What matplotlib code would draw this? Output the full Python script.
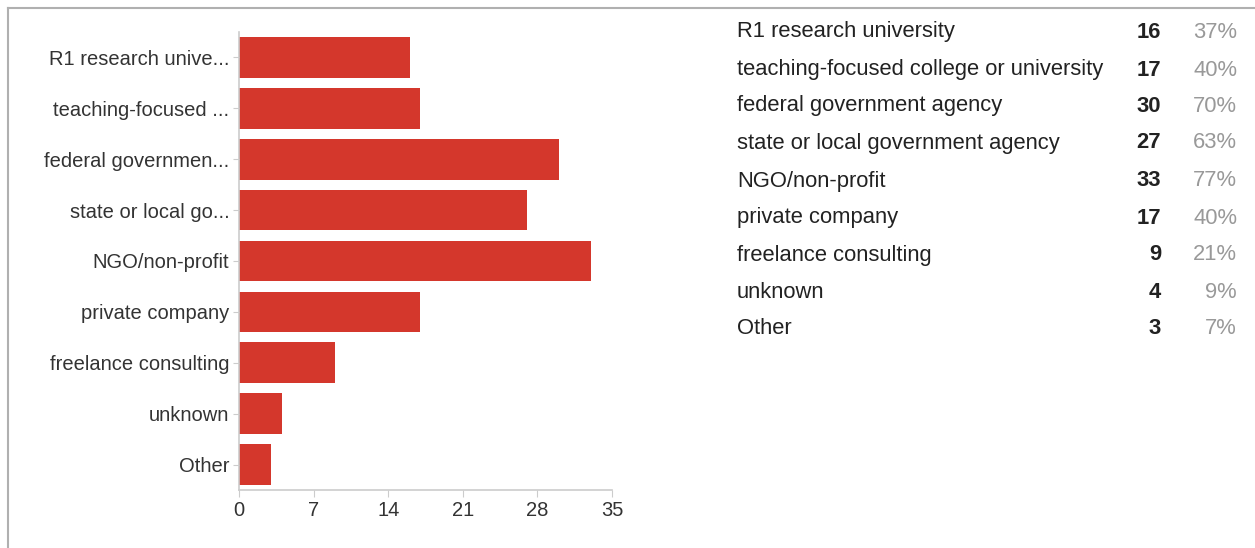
import matplotlib.pyplot as plt
from matplotlib.lines import Line2D

plt.rcParams['font.family'] = ['Liberation Sans', 'DejaVu Sans']

# short labels shown on the bar axis
bar_labels = ['R1 research unive...', 'teaching-focused ...', 'federal governmen...',
              'state or local go...', 'NGO/non-profit', 'private company',
              'freelance consulting', 'unknown', 'Other']
# full labels shown in the table on the right
full_labels = ['R1 research university', 'teaching-focused college or university',
               'federal government agency', 'state or local government agency',
               'NGO/non-profit', 'private company', 'freelance consulting',
               'unknown', 'Other']
counts = [16, 17, 30, 27, 33, 17, 9, 4, 3]
percents = ['37%', '40%', '70%', '63%', '77%', '40%', '21%', '9%', '7%']
xticks = [0, 7, 14, 21, 28, 35]

W, H = 1255, 548
fig = plt.figure(figsize=(W / 100, H / 100), dpi=100)

# bar chart
ax = fig.add_axes([239 / W, 1 - 490 / H, (612 - 239) / W, (490 - 32) / H])
ypos = list(range(len(counts)))
ax.barh(ypos, counts, height=0.8, color='#d4372c')
ax.set_ylim(len(counts) - 0.5, -0.5)
ax.set_xlim(0, 35)
ax.set_xticks(xticks)
ax.set_yticks(ypos)
ax.set_yticklabels(bar_labels)
for s in ['top', 'right']:
    ax.spines[s].set_visible(False)
for s in ['left', 'bottom']:
    ax.spines[s].set_color('#cccccc')
    ax.spines[s].set_linewidth(1.2)
ax.tick_params(axis='y', length=4, color='#cccccc', labelsize=14.5, labelcolor='#333333', pad=3)
ax.tick_params(axis='x', length=5, color='#cccccc', labelsize=14.5, labelcolor='#333333', pad=3)

# table on the right
row_y = [32, 70, 106, 143, 181, 218, 255, 292, 328]
for lab, c, p, yy in zip(full_labels, counts, percents, row_y):
    fy = 1 - yy / H
    fig.text(737 / W, fy, lab, fontsize=15.8, color='#222222', va='center', ha='left')
    fig.text(1161 / W, fy, str(c), fontsize=15.8, color='#222222', va='center', ha='right',
             fontweight='bold')
    fig.text(1237 / W, fy, p, fontsize=15.8, color='#999999', va='center', ha='right')

# frame lines around the panel
fig.add_artist(Line2D([8 / W, 1], [1 - 8 / H, 1 - 8 / H], transform=fig.transFigure,
                      color='#b0b0b0', lw=1.5))
fig.add_artist(Line2D([8 / W, 8 / W], [0, 1 - 8 / H], transform=fig.transFigure,
                      color='#b0b0b0', lw=1.5))

fig.savefig('out.png', dpi=100)
